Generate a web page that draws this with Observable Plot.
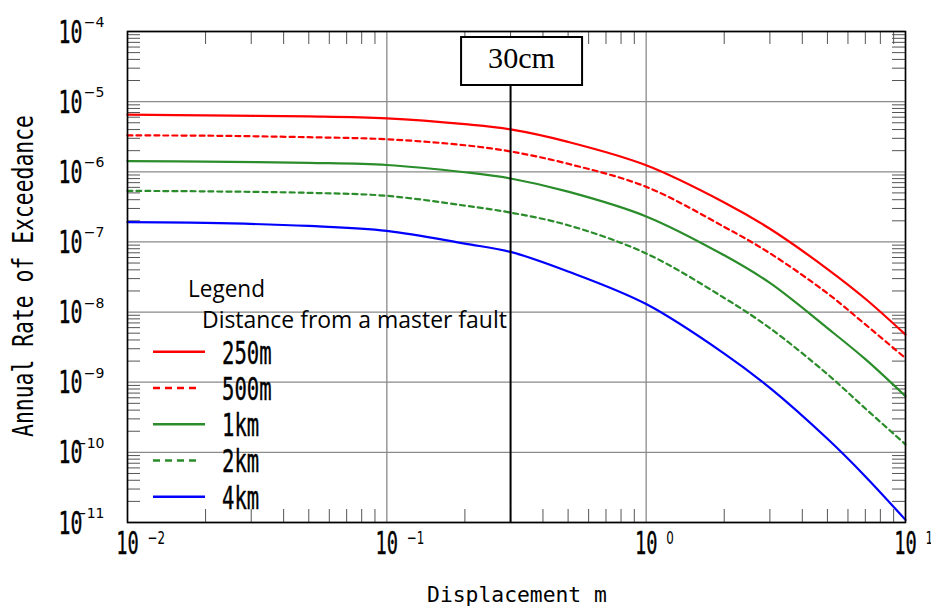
<!DOCTYPE html>
<html><head><meta charset="utf-8">
<script src="https://cdn.jsdelivr.net/npm/d3@7"></script>
<script src="https://cdn.jsdelivr.net/npm/@observablehq/plot@0.6"></script>
<style>body{margin:0;background:#fff}</style>
</head><body><div id="chart"></div>
<script>
// ---- data ----
const displacement = [0.01, 0.02, 0.05, 0.1, 0.2, 0.3, 0.5, 1, 2, 3, 5, 7, 10];
const rate250m = [6.52e-6, 6.37e-6, 6.16e-6, 5.77e-6, 4.77e-6, 4.02e-6, 2.67e-6, 1.24e-6, 3.66e-7, 1.54e-7, 4.11e-8, 1.55e-8, 4.77e-9];
const rate500m = [3.30e-6, 3.27e-6, 3.11e-6, 2.91e-6, 2.39e-6, 1.95e-6, 1.30e-6, 6.1e-7, 1.64e-7, 6.9e-8, 1.85e-8, 6.67e-9, 2.2e-9];
const rate1km  = [1.42e-6, 1.40e-6, 1.34e-6, 1.25e-6, 9.84e-7, 8.02e-7, 5.21e-7, 2.31e-7, 6.44e-8, 2.6e-8, 5.9e-9, 2.13e-9, 6.3e-10];
const rate2km  = [5.35e-7, 5.26e-7, 5.01e-7, 4.54e-7, 3.29e-7, 2.62e-7, 1.73e-7, 6.85e-8, 1.59e-8, 5.9e-9, 1.30e-9, 4.22e-10, 1.30e-10];
const rate4km  = [1.91e-7, 1.87e-7, 1.69e-7, 1.44e-7, 9.46e-8, 7.2e-8, 3.79e-8, 1.30e-8, 2.56e-9, 8.3e-10, 1.56e-10, 4.54e-11, 1.09e-11];
const seriesNames  = ["250m", "500m", "1km", "2km", "4km"];
const seriesValues = [rate250m, rate500m, rate1km, rate2km, rate4km];
const seriesColors = ["#ff0000", "#ff0000", "#2a8c2a", "#2a8c2a", "#0000ff"];
const seriesDashes = [null, "5,4", null, "5,4", null];
const legendDashes = [null, "7,5", null, "7,5", null];

const xDecades = [0.01, 0.1, 1, 10];
const xExponents = ["\u22122", "\u22121", "0", "1"];
const yDecades = [1e-11, 1e-10, 1e-9, 1e-8, 1e-7, 1e-6, 1e-5, 1e-4];
const yExponents = ["\u221211", "\u221210", "\u22129", "\u22128", "\u22127", "\u22126", "\u22125", "\u22124"];
const minorMultipliers = [2, 3, 4, 5, 6, 7, 8, 9];
const markerDisplacement = [0.3];
const markerLabel = "30cm";
const xTitle = "Displacement m";
const yTitle = "Annual Rate of Exceedance";
const legendTitle = "Legend";
const legendSubtitle = "Distance from a master fault";

// ---- layout ----
const W = 931, H = 606;
const mT = 31, mB = 84, mL = 127, mR = 26;
const fw = W - mL - mR, fh = H - mT - mB;
const tickLen = 13;

const minorX = xDecades.slice(0, -1).flatMap(d => minorMultipliers.map(m => d * m));
const minorY = yDecades.slice(0, -1).flatMap(d => minorMultipliers.map(m => d * m));

const rows = seriesNames.map((name, s) => displacement.map((x, i) => ({series: name, x, y: seriesValues[s][i]})));

const monoFont = "DejaVu Sans Mono";

const plot = Plot.plot({
  width: W, height: H,
  marginTop: mT, marginBottom: mB, marginLeft: mL, marginRight: mR,
  x: {type: "log", domain: [0.01, 10], axis: null},
  y: {type: "log", domain: [1e-11, 1e-4], axis: null},
  style: {background: "#fff"},
  marks: [
    Plot.ruleX(xDecades, {x: d => d, stroke: "#8a8a8a", strokeWidth: 1.3}),
    Plot.ruleY(yDecades, {y: d => d, stroke: "#8a8a8a", strokeWidth: 1.3}),
    Plot.tickX(minorX, {x: d => d, insetTop: fh - tickLen, stroke: "#555", strokeWidth: 1}),
    Plot.tickX(minorX, {x: d => d, insetBottom: fh - tickLen, stroke: "#555", strokeWidth: 1}),
    Plot.tickY(minorY, {y: d => d, insetRight: fw - tickLen, stroke: "#555", strokeWidth: 1}),
    Plot.tickY(minorY, {y: d => d, insetLeft: fw - tickLen, stroke: "#555", strokeWidth: 1}),
    ...rows.map((data, s) => Plot.line(data, {
      x: "x", y: "y", stroke: seriesColors[s], strokeWidth: 2.2,
      strokeDasharray: seriesDashes[s], curve: "catmull-rom"
    })),
    Plot.ruleX(markerDisplacement, {x: d => d, insetTop: 54, stroke: "#000", strokeWidth: 2}),
    Plot.frame({stroke: "#000", strokeWidth: 1.6}),
    // y tick labels
    Plot.text(yDecades, {y: d => d, frameAnchor: "left", text: () => "10", dx: -45, dy: 1,
      textAnchor: "end", fontFamily: monoFont, fontSize: 31.5, fill: "#000", stroke: "#000", strokeWidth: 0.4, ariaLabel: () => "ybase"}),
    Plot.text(yDecades, {y: d => d, frameAnchor: "left", text: (d, i) => yExponents[i], dx: -23, dy: -9,
      textAnchor: "end", fontFamily: "DejaVu Sans", fontSize: 14, fill: "#000", ariaLabel: () => "yexp"}),
    // x tick labels
    Plot.text(xDecades, {x: d => d, frameAnchor: "bottom", text: () => "10", dy: 31.5,
      textAnchor: "middle", fontFamily: monoFont, fontSize: 31.5, fill: "#000", stroke: "#000", strokeWidth: 0.4, ariaLabel: () => "xbase"}),
    Plot.text(xDecades, {x: d => d, frameAnchor: "bottom", text: (d, i) => xExponents[i], dx: 20, dy: 21.5,
      textAnchor: "start", fontFamily: "DejaVu Sans", fontSize: 18, fill: "#000", ariaLabel: () => "xexp"})
  ]
});
document.getElementById("chart").appendChild(plot);

const svg = d3.select(plot);
const xS = plot.scale("x");

// horizontal squeeze about the text's anchor point
function squeeze(node, f) {
  if (!isFinite(f) || f <= 0) return;
  const x = +node.getAttribute("x") || 0, y = +node.getAttribute("y") || 0;
  const t = node.getAttribute("transform") || "";
  node.setAttribute("transform", `${t} translate(${x},${y}) scale(${f},1) translate(${-x},${-y})`);
}
function fitTo(node, w) { squeeze(node, w / node.getComputedTextLength()); }
function sel(label) {
  return svg.selectAll(`text[aria-label="${label}"], g[aria-label="${label}"] text`);
}

sel("ybase").each(function () { fitTo(this, 24); });
sel("xbase").each(function () { fitTo(this, 22.5); });
sel("xexp").each(function () { squeeze(this, 0.66); });

function addText(parent, x, y, str, font, size, anchor, width, strokeW) {
  const t = parent.append("text").attr("x", x).attr("y", y).attr("text-anchor", anchor)
    .attr("font-family", font).attr("font-size", size).attr("fill", "#000").text(str);
  if (strokeW) t.attr("stroke", "#000").attr("stroke-width", strokeW);
  if (width) fitTo(t.node(), width);
  return t;
}

// axis titles
const yt = svg.append("g").attr("transform", "translate(33,276) rotate(-90)");
addText(yt, 0, 0, yTitle, monoFont, 27.5, "middle", 322);
addText(svg, mL + fw / 2 + 1, 602, xTitle, monoFont, 21, "middle", 180);

// 30cm annotation box
const mx = xS.apply(markerDisplacement[0]);
const box = svg.append("g");
box.append("rect").attr("x", mx - 49).attr("y", 37).attr("width", 121).attr("height", 48)
  .attr("fill", "#fff").attr("stroke", "#000").attr("stroke-width", 2);
addText(box, mx + 11.5, 68, markerLabel, "Liberation Serif", 30, "middle", 67);

// legend
const lg = svg.append("g");
addText(lg, 188, 297, legendTitle, "Open Sans", 23, "start", 77);
addText(lg, 202, 328, legendSubtitle, "Open Sans", 23, "start", 305);
seriesNames.forEach((name, i) => {
  const yy = 351.7 + 36.25 * i;
  lg.append("line").attr("x1", 153).attr("x2", legendDashes[i] ? 201 : 205).attr("y1", yy).attr("y2", yy)
    .attr("stroke", seriesColors[i]).attr("stroke-width", 2.5)
    .attr("stroke-dasharray", legendDashes[i]);
  addText(lg, 222, yy + 12, name, monoFont, 31.5, "start", name.length * 12.4, 0.4);
});
</script>
</body></html>
